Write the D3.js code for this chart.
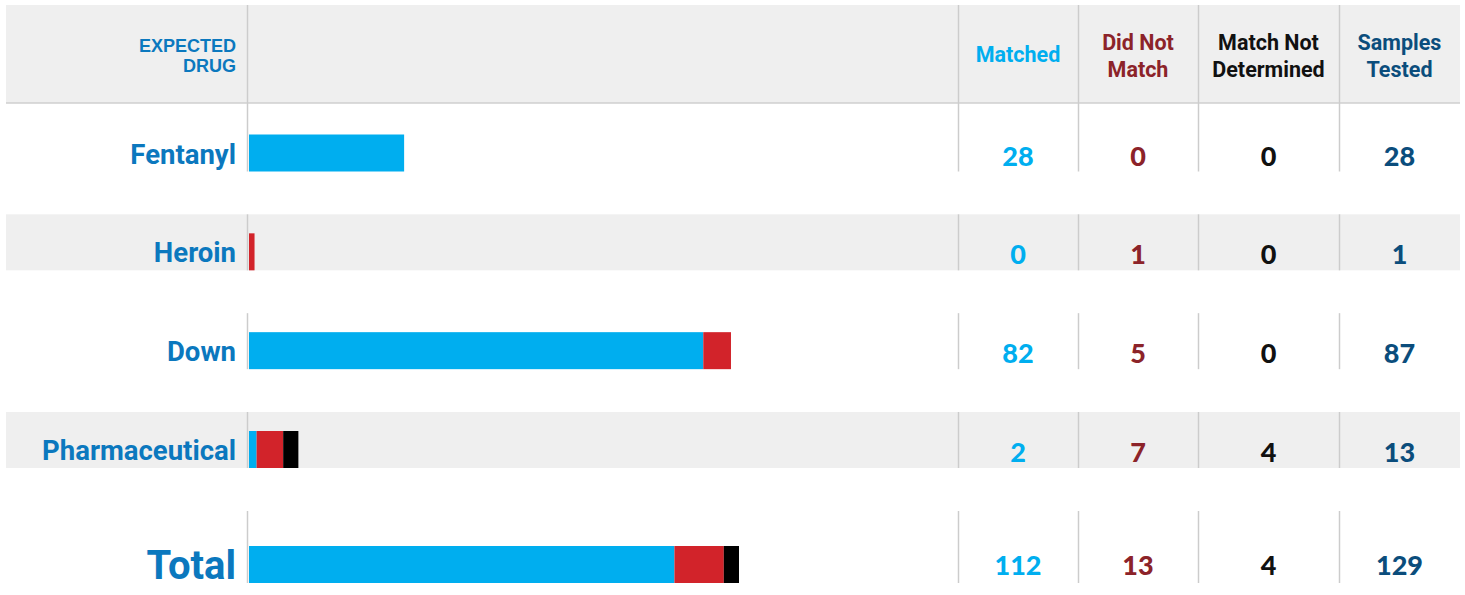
<!DOCTYPE html>
<html>
<head>
<meta charset="utf-8">
<script src="https://cdn.jsdelivr.net/npm/d3@7"></script>
<style>
  html, body { margin: 0; padding: 0; background: #fff; }
  svg { display: block; }
</style>
</head>
<body>
<div id="chart"></div>
<script>
// data
const drugs = ['Fentanyl', 'Heroin', 'Down', 'Pharmaceutical', 'Total']
const matched = [28, 0, 82, 2, 112]
const didNotMatch = [0, 1, 5, 7, 13]
const notDetermined = [0, 0, 0, 4, 4]
const samplesTested = [28, 1, 87, 13, 129]
// the original chart draws the last two bars on a tighter scale
const scaleGroup = ['row', 'row', 'row', 'total', 'total']

const columns = [
  { key: 'matched', lines: ['Matched'], color: '#00aeef', numColor: '#00aeef' },
  { key: 'didNot', lines: ['Did Not', 'Match'], color: '#8c2329', numColor: '#8c2329' },
  { key: 'notDet', lines: ['Match Not', 'Determined'], color: '#111', numColor: '#111' },
  { key: 'samples', lines: ['Samples', 'Tested'], color: '#0b4d7c', numColor: '#0b4d7c' },
]

const rows = drugs.map((d, i) => ({
  drug: d,
  matched: matched[i],
  didNot: didNotMatch[i],
  notDet: notDetermined[i],
  samples: samplesTested[i],
  group: scaleGroup[i],
  total: d === 'Total',
}))

const width = 1465, height = 595
const headTop = 5, headBottom = 103
const left = 6, right = 1460
const axisX = 247
const colEdges = [958, 1078, 1198, 1339, 1460]

const svg = d3.select('#chart').append('svg')
  .attr('width', width).attr('height', height)

// bar scales
const xRow = d3.scaleLinear().domain([0, 100]).range([0, 554])
const xTot = d3.scaleLinear().domain([0, 129]).range([0, 490])
const xFor = r => r.group === 'row' ? xRow : xTot

// row bottoms (bars sit on the bottom of each row)
const yBottom = d3.scalePoint().domain(drugs.slice(0, 4)).range([171.5, 468])
const rowBottom = r => r.total ? 583 : yBottom(r.drug)
const rowTop = (r, i) => i === 0 ? headBottom : (r.total ? 511 : rowBottom(r) - 56)
const barH = 37

// header band
svg.append('rect')
  .attr('x', left).attr('y', headTop)
  .attr('width', right - left).attr('height', headBottom - headTop)
  .attr('fill', '#efefef')
svg.append('line')
  .attr('x1', left).attr('x2', right)
  .attr('y1', headBottom).attr('y2', headBottom)
  .attr('stroke', '#cfcfcf').attr('stroke-width', 1.5)

// header separators
;[axisX, ...colEdges.slice(0, 4)].forEach(x => {
  svg.append('line')
    .attr('x1', x + 0.5).attr('x2', x + 0.5)
    .attr('y1', headTop).attr('y2', headBottom)
    .attr('stroke', '#cccccc').attr('stroke-width', 1.5)
})

// header texts
const expected = svg.append('text')
  .attr('text-anchor', 'end')
  .attr('fill', '#0b78be')
  .attr('font-family', '"Liberation Sans", Arial, sans-serif')
  .attr('font-weight', 700)
  .attr('font-size', '18px')
expected.append('tspan').attr('x', 236).attr('y', 51.5).text('EXPECTED')
expected.append('tspan').attr('x', 236).attr('y', 71.5).text('DRUG')

columns.forEach((c, j) => {
  const cx = (colEdges[j] + colEdges[j + 1]) / 2
  const t = svg.append('text')
    .attr('text-anchor', 'middle')
    .attr('fill', c.color)
    .attr('font-family', 'Roboto, sans-serif')
    .attr('font-weight', 700)
    .attr('font-size', '21.5px')
  const y0 = c.lines.length === 1 ? 62 : 50
  c.lines.forEach((l, k) => {
    t.append('tspan').attr('x', cx).attr('y', y0 + k * 26.5).text(l)
  })
})

// rows
const rowG = svg.selectAll('.row')
  .data(rows)
  .join('g')
  .attr('class', 'row')

// grey bands on alternate rows
rowG.filter((d, i) => i % 2 === 1)
  .append('rect')
  .attr('x', left)
  .attr('y', d => rowBottom(d) - 56)
  .attr('width', right - left)
  .attr('height', 56)
  .attr('fill', '#efefef')

// separators inside rows
rowG.each(function (d, i) {
  const g = d3.select(this)
  ;[axisX, ...colEdges.slice(0, 4)].forEach(x => {
    g.append('line')
      .attr('x1', x + 0.5).attr('x2', x + 0.5)
      .attr('y1', rowTop(d, i)).attr('y2', rowBottom(d))
      .attr('stroke', '#cccccc').attr('stroke-width', 1.5)
  })
})

// labels
rowG.append('text')
  .attr('x', 236)
  .attr('y', d => rowBottom(d) - (d.total ? 4 : 8))
  .attr('text-anchor', 'end')
  .attr('fill', '#0b78be')
  .attr('font-family', 'Roboto, sans-serif')
  .attr('font-weight', 700)
  .attr('font-size', d => d.total ? '40px' : '27.5px')
  .text(d => d.drug)

// stacked bars
const segs = [
  { key: 'matched', color: '#00aeef' },
  { key: 'didNot', color: '#d2232a' },
  { key: 'notDet', color: '#000000' },
]
const stack = d3.stack().keys(segs.map(s => s.key))(rows)
stack.forEach((layer, k) => {
  svg.append('g')
    .selectAll('rect')
    .data(layer)
    .join('rect')
    .attr('x', p => axisX + 2 + xFor(p.data)(p[0]))
    .attr('y', p => rowBottom(p.data) - barH)
    .attr('width', p => xFor(p.data)(p[1]) - xFor(p.data)(p[0]))
    .attr('height', barH)
    .attr('fill', segs[k].color)
})

// numbers
columns.forEach((c, j) => {
  const cx = (colEdges[j] + colEdges[j + 1]) / 2
  svg.append('g')
    .selectAll('text')
    .data(rows)
    .join('text')
    .attr('x', cx)
    .attr('y', d => rowBottom(d) - (d.total ? 8 : 6))
    .attr('text-anchor', 'middle')
    .attr('fill', c.numColor)
    .attr('font-family', 'Lato, sans-serif')
    .attr('font-weight', 900)
    .attr('font-size', '27px')
    .text(d => d[c.key])
})
</script>
</body>
</html>
